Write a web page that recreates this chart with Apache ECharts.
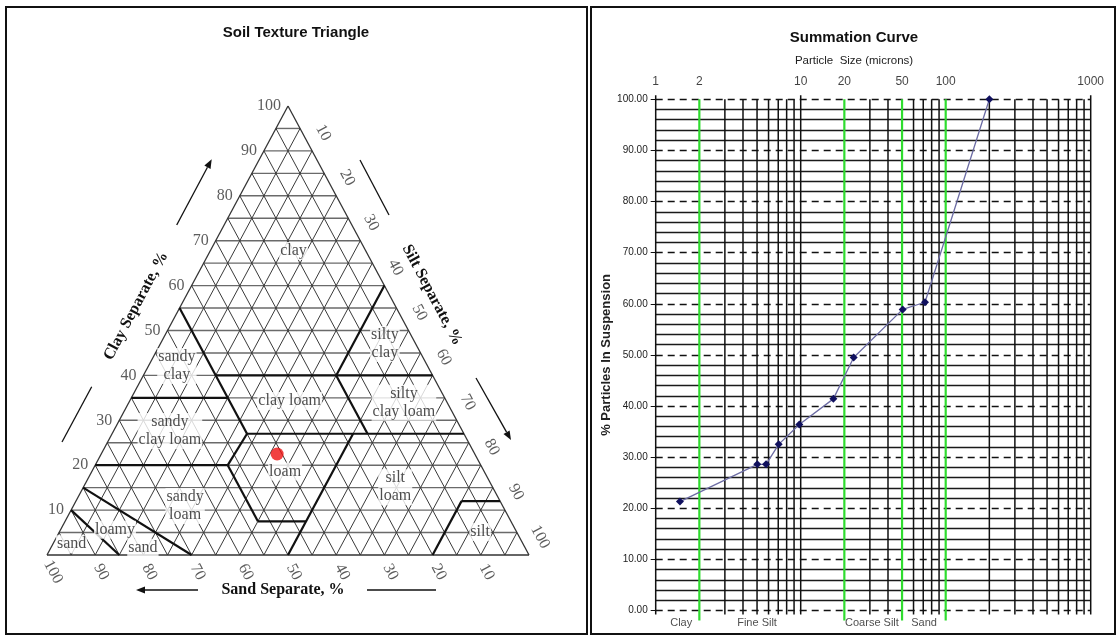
<!DOCTYPE html>
<html><head><meta charset="utf-8">
<script src="https://cdn.jsdelivr.net/npm/echarts@6/dist/echarts.min.js"></script>
<style>html,body{margin:0;padding:0;background:#fff}#c{width:1119px;height:637px}</style>
</head><body><div id="c"></div>
<script>
// ===== Soil texture triangle (values as [sand %, clay %]) =====
const gridStep = 5;
const clayTicks = [10, 20, 30, 40, 50, 60, 70, 80, 90, 100];
const siltTicks = [10, 20, 30, 40, 50, 60, 70, 80, 90, 100];
const sandTicks = [100, 90, 80, 70, 60, 50, 40, 30, 20, 10];
const classBoundaries = [
  [[90, 10], [85, 0]],
  [[85, 15], [70, 0]],
  [[80, 20], [52.5, 20]],
  [[52.5, 20], [52.5, 7.5]],
  [[52.5, 7.5], [42.5, 7.5]],
  [[50, 0], [23, 27]],
  [[52.5, 20], [45, 27]],
  [[45, 27], [0, 27]],
  [[65, 35], [45, 35]],
  [[45, 55], [45, 27]],
  [[45, 40], [0, 40]],
  [[20, 40], [20, 27]],
  [[0, 60], [20, 40]],
  [[20, 0], [8, 12]],
  [[8, 12], [0, 12]]
];
const classNames = ['clay', 'silty\nclay', 'sandy\nclay', 'clay loam', 'silty\nclay loam', 'sandy\nclay loam',
  'loam', 'silt\nloam', 'sandy\nloam', 'loamy', 'sand', 'sand', 'silt'];
const classSand = [15, 6.4, 52, 32.5, 9, 60.7, 41.3, 20.2, 65.9, 83.1, 79.3, 93.7, 7.6];
const classClay = [67.7, 47, 42.1, 34.3, 33.9, 27.6, 18.6, 15.1, 10.9, 5.6, 1.6, 2.4, 5.1];
const sampleSand = 41;
const sampleClay = 22.5;

// ===== Summation curve =====
const particleSize = [1.47, 5.02, 5.77, 7.05, 9.78, 16.8, 23.2, 50.5, 72, 200];
const pctSuspension = [21.3, 28.6, 28.6, 32.5, 36.4, 41.4, 49.5, 58.9, 60.3, 100];
const sizeGrid = [1, 2, 3, 4, 5, 6, 7, 8, 9, 10, 20, 30, 40, 50, 60, 70, 80, 90, 100,
  200, 300, 400, 500, 600, 700, 800, 900, 1000];
const classLimits = [2, 20, 50, 100];
const topTickLabels = [1, 2, 10, 20, 50, 100, 1000];
const fractionNames = ['Clay', 'Fine Silt', 'Coarse Silt', 'Sand'];
const fractionAt = [1.5, 5.0, 31, 71];

// ternary -> cartesian (x = silt + clay/2, y = clay)
function tx(sand, clay) { return [100 - sand - clay / 2, clay]; }

const segs = [];
for (let k = gridStep; k < 100; k += gridStep) {
  segs.push({ a: tx(100 - k, k), b: tx(0, k), h: 1 });
  segs.push({ a: tx(k, 0), b: tx(k, 100 - k), h: 0 });
  segs.push({ a: tx(100 - k, 0), b: tx(0, 100 - k), h: 0 });
}
const outline = [[tx(100, 0), tx(0, 0)], [tx(0, 0), tx(0, 100)], [tx(0, 100), tx(100, 0)]];

const serif = '"Liberation Serif", "Times New Roman", serif';
const sans = '"Liberation Sans", Arial, sans-serif';

// label offset given in screen pixels, converted into the rotated label frame
const LROT = -62;
function rotOffset(dx, dy) {
  const r = LROT * Math.PI / 180, c = Math.cos(r), s = Math.sin(r);
  return [dx * c - dy * s, dx * s + dy * c];
}

function segSeries(list, style, z) {
  return {
    type: 'custom', xAxisIndex: 1, yAxisIndex: 1, clip: false, z: z, silent: true,
    data: list.map(s => [s[0][0], s[0][1], s[1][0], s[1][1]]),
    renderItem: function (params, api) {
      const p1 = api.coord([api.value(0), api.value(1)]);
      const p2 = api.coord([api.value(2), api.value(3)]);
      return { type: 'line', shape: { x1: p1[0], y1: p1[1], x2: p2[0], y2: p2[1] }, style: style };
    }
  };
}

function arrow(x1, y1, x2, y2) {
  const a = Math.atan2(y2 - y1, x2 - x1), L = 9, W = 3.5;
  const bx = x2 - L * Math.cos(a), by = y2 - L * Math.sin(a);
  return [
    { type: 'line', shape: { x1: x1, y1: y1, x2: bx, y2: by }, style: { stroke: '#111', lineWidth: 1.3 } },
    { type: 'polygon', shape: { points: [[x2, y2], [bx - W * Math.sin(a), by + W * Math.cos(a)], [bx + W * Math.sin(a), by - W * Math.cos(a)]] }, style: { fill: '#111' } }
  ];
}
function seg(x1, y1, x2, y2) {
  return { type: 'line', shape: { x1: x1, y1: y1, x2: x2, y2: y2 }, style: { stroke: '#111', lineWidth: 1.3 } };
}

const deg = Math.PI / 180;
const graphics = [
  { type: 'rect', shape: { x: 6, y: 7, width: 581, height: 627 }, style: { fill: 'none', stroke: '#111', lineWidth: 2 } },
  { type: 'rect', shape: { x: 591, y: 7, width: 524, height: 627 }, style: { fill: 'none', stroke: '#111', lineWidth: 2 } },
  { type: 'text', x: 296, y: 33, style: { text: 'Soil Texture Triangle', font: 'bold 15px ' + sans, fill: '#111', align: 'center', verticalAlign: 'middle' } },
  { type: 'text', x: 854, y: 38, style: { text: 'Summation Curve', font: 'bold 15px ' + sans, fill: '#111', align: 'center', verticalAlign: 'middle' } },
  { type: 'text', x: 854, y: 61, style: { text: 'Particle  Size (microns)', font: '11.5px ' + sans, fill: '#222', align: 'center', verticalAlign: 'middle' } },
  { type: 'text', x: 136, y: 306, rotation: 62 * deg, style: { text: 'Clay Separate, %', font: 'bold 16px ' + serif, fill: '#111', align: 'center', verticalAlign: 'middle' } },
  { type: 'text', x: 432, y: 295, rotation: -62 * deg, style: { text: 'Silt Separate, %', font: 'bold 16px ' + serif, fill: '#111', align: 'center', verticalAlign: 'middle' } },
  { type: 'text', x: 283, y: 590, style: { text: 'Sand Separate, %', font: 'bold 16px ' + serif, fill: '#111', align: 'center', verticalAlign: 'middle' } },
  seg(62, 442, 91.7, 386.7),
  seg(360, 160, 389, 215),
  seg(367, 590, 436, 590)
].concat(arrow(176.7, 225, 211.7, 159.3), arrow(476, 378, 511, 440), arrow(198, 590, 136, 590));

const option = {
  animation: false,
  backgroundColor: '#fff',
  grid: [
    { left: 655.7, right: 28.3, top: 99.3, bottom: 26.5 },
    { left: 47, right: 590, top: 106, bottom: 82 }
  ],
  xAxis: [
    { gridIndex: 0, type: 'log', logBase: 10, min: 1, max: 1000, axisLine: { show: false }, axisTick: { show: false }, axisLabel: { show: false }, splitLine: { show: false } },
    { gridIndex: 1, type: 'value', min: 0, max: 100, show: false }
  ],
  yAxis: [
    {
      gridIndex: 0, type: 'value', min: 0, max: 100, interval: 10,
      name: '% Particles In Suspension', nameLocation: 'middle', nameGap: 42, nameRotate: 90,
      nameTextStyle: { fontFamily: sans, fontWeight: 'bold', fontSize: 13, color: '#222' },
      axisLine: { show: false },
      axisTick: { show: true, length: 5, lineStyle: { color: '#111' } },
      axisLabel: { formatter: v => v.toFixed(2), fontSize: 10, fontFamily: sans, color: '#222', margin: 8 },
      splitLine: { show: true, lineStyle: { color: '#111', width: 1.3, type: [7, 5] } },
      minorTick: { show: false, splitNumber: 5 },
      minorSplitLine: { show: true, lineStyle: { color: '#1a1a1a', width: 1.3 } }
    },
    { gridIndex: 1, type: 'value', min: 0, max: 100, show: false }
  ],
  graphic: graphics,
  series: [
    // vertical log grid lines
    {
      type: 'custom', xAxisIndex: 0, yAxisIndex: 0, clip: false, z: 3, silent: true,
      data: sizeGrid.map(v => [v, 0]),
      renderItem: function (params, api) {
        const v = api.value(0);
        const top = api.coord([v, 100]);
        const bot = api.coord([v, 0]);
        const green = classLimits.indexOf(v) >= 0;
        const ext = (!green && (v === 1 || v === 10 || v === 100 || v === 1000)) ? 4 : 0;
        return {
          type: 'line',
          shape: { x1: top[0], y1: top[1] - ext, x2: bot[0], y2: bot[1] + (green ? 10 : 4) },
          style: { stroke: green ? '#2fdc2f' : '#111', lineWidth: green ? 2.2 : 1.5 }
        };
      }
    },
    // summation curve
    {
      type: 'line', xAxisIndex: 0, yAxisIndex: 0, z: 5,
      data: particleSize.map((v, i) => [v, pctSuspension[i]]),
      symbol: 'diamond', symbolSize: 8,
      itemStyle: { color: '#10105e' },
      lineStyle: { color: '#6c6ca4', width: 1.3 }
    },
    // top size labels
    {
      type: 'scatter', xAxisIndex: 0, yAxisIndex: 0, symbolSize: 0, clip: false, silent: true,
      data: topTickLabels.map(v => [v, 100]),
      label: { show: true, position: 'top', distance: 12, formatter: p => String(p.value[0]), fontSize: 12, fontFamily: sans, color: '#111' }
    },
    // fraction names at bottom
    {
      type: 'scatter', xAxisIndex: 0, yAxisIndex: 0, symbolSize: 0, clip: false, silent: true,
      data: fractionAt.map((v, i) => ({ value: [v, 0], name: fractionNames[i] })),
      label: { show: true, position: 'bottom', distance: 7, formatter: p => p.name, fontSize: 11, fontFamily: sans, color: '#222' }
    },
    // triangle grid
    segSeries(segs.filter(s => s.h).map(s => [s.a, s.b]), { stroke: '#6a6a6a', lineWidth: 1.4 }, 2),
    segSeries(segs.filter(s => !s.h).map(s => [s.a, s.b]), { stroke: '#3a3a3a', lineWidth: 1 }, 2),
    segSeries(outline, { stroke: '#333', lineWidth: 1.3 }, 3),
    segSeries(classBoundaries.map(b => [tx(b[0][0], b[0][1]), tx(b[1][0], b[1][1])]), { stroke: '#111', lineWidth: 2.2 }, 4),
    // clay ticks
    {
      type: 'scatter', xAxisIndex: 1, yAxisIndex: 1, symbolSize: 0, clip: false, silent: true,
      data: clayTicks.map(c => ({ value: tx(100 - c, c), name: String(c) })),
      label: { show: true, position: 'left', distance: 7, formatter: p => p.name, fontSize: 16, fontFamily: serif, color: '#333' }
    },
    // silt ticks
    {
      type: 'scatter', xAxisIndex: 1, yAxisIndex: 1, symbolSize: 0, clip: false, silent: true,
      data: siltTicks.map(s => ({ value: tx(0, 100 - s), name: String(s) })),
      label: { show: true, position: 'inside', offset: rotOffset(11, -18), rotate: LROT, formatter: p => p.name, fontSize: 16, fontFamily: serif, color: '#333' }
    },
    // sand ticks
    {
      type: 'scatter', xAxisIndex: 1, yAxisIndex: 1, symbolSize: 0, clip: false, silent: true,
      data: sandTicks.map(s => ({ value: tx(s, 0), name: String(s) })),
      label: { show: true, position: 'inside', offset: rotOffset(6, 17), rotate: LROT, formatter: p => p.name, fontSize: 16, fontFamily: serif, color: '#333' }
    },
    // class names
    {
      type: 'scatter', xAxisIndex: 1, yAxisIndex: 1, symbolSize: 0, clip: false, silent: true, z: 6,
      data: classNames.map((n, i) => ({ value: tx(classSand[i], classClay[i]), name: n })),
      label: { show: true, position: 'inside', formatter: p => p.name, fontSize: 16, lineHeight: 18, fontFamily: serif, color: '#222', backgroundColor: '#fff', padding: [0, 1] }
    },
    // sample point
    {
      type: 'scatter', xAxisIndex: 1, yAxisIndex: 1, z: 7,
      data: [tx(sampleSand, sampleClay)], symbol: 'circle', symbolSize: 13, itemStyle: { color: '#ee1111' }
    }
  ]
};
echarts.init(document.getElementById('c')).setOption(option);
</script></body></html>
